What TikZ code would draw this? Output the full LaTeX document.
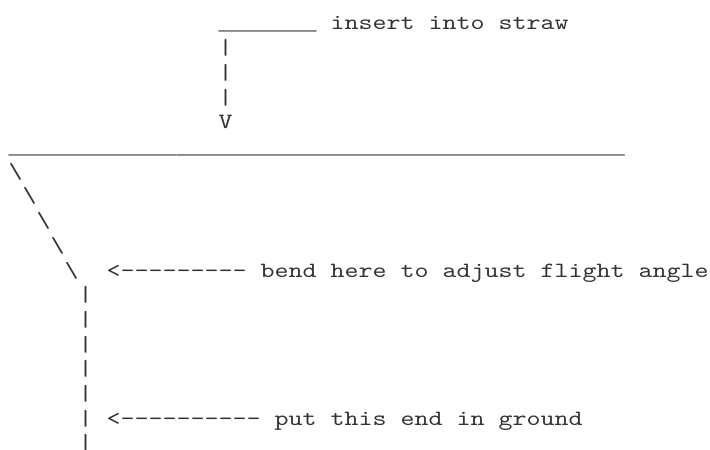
\documentclass[tikz,border=0pt]{standalone}
\usepackage{fontspec}
\setmonofont{lmmono10-regular.otf}[FakeStretch=1.223]
\newfontfamily\rulefont{Liberation Mono}
\usetikzlibrary{positioning}
\definecolor{clrtext}{HTML}{333333}
\newcommand\underscores[1]{{\rulefont\fontsize{11.67pt}{12pt}\selectfont\foreach \k in {1,...,#1}{\_}}}

\begin{document}
\begin{tikzpicture}[
    x=7pt, y=-12.35pt, shift={(4.15pt,-15pt)},
    every node/.style={font=\ttfamily\fontsize{10.9pt}{12pt}\selectfont,
                       text=clrtext, inner sep=0, anchor=base west},
]
\useasboundingbox (-4.15pt,15pt) rectangle (350.85pt,-209.5pt);
% straw entry
\node (n_1) at (15,0) {\underscores{7}};
\node (n_2) at (23,0) {insert into straw};
\node (n_3) at (15,1) {|};
\node (n_4) at (15,2) {|};
\node (n_5) at (15,3) {|};
\node (n_6) at (15,4) {V};
% body
\node (n_7) at (0,5) {\underscores{44}};
\node (n_8) at (0,6) {\textbackslash};
\node (n_9) at (1,7) {\textbackslash};
\node (n_10) at (2,8) {\textbackslash};
\node (n_11) at (3,9) {\textbackslash};
\node (n_12) at (4,10) {\textbackslash};
\node (n_13) at (7,10) {<--------- bend here to adjust flight angle};
% stake
\node (n_14) at (5,11) {|};
\node (n_15) at (5,12) {|};
\node (n_16) at (5,13) {|};
\node (n_17) at (5,14) {|};
\node (n_18) at (5,15) {|};
\node (n_19) at (5,16) {|};
\node (n_20) at (7,16) {<---------- put this end in ground};
\node (n_21) at (5,17) {|};
\end{tikzpicture}
\end{document}
